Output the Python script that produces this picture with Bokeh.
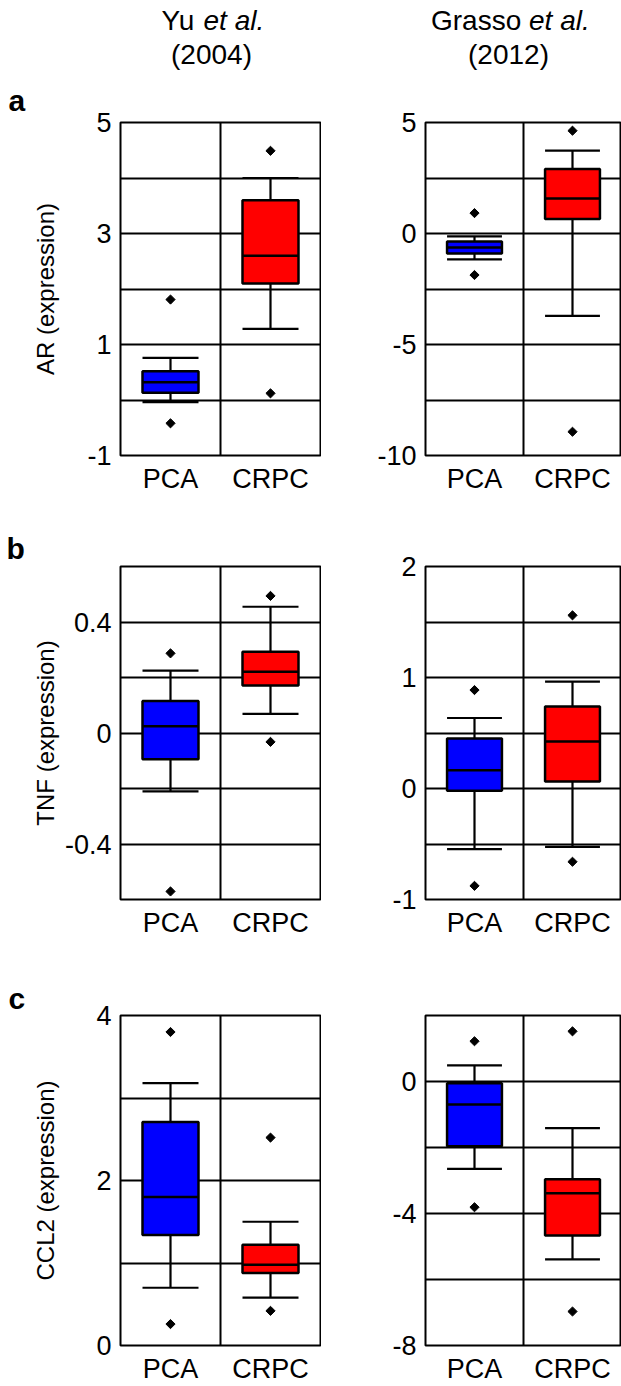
import math
from bokeh.plotting import figure
from bokeh.layouts import row, column
from bokeh.models import FixedTicker, NumeralTickFormatter, Range1d, Title
from bokeh.core.properties import value
from bokeh.embed import file_html
from bokeh.resources import INLINE

# ---------------- data ----------------
categories = ["PCA", "CRPC"]
box_colors = ["#0000ff", "#ff0000"]

# a: AR, Yu et al. (2004)
yu_ar_low = [-0.04, 1.28]
yu_ar_q1 = [0.13, 2.10]
yu_ar_median = [0.32, 2.60]
yu_ar_q3 = [0.52, 3.60]
yu_ar_high = [0.76, 4.00]
yu_ar_outliers = [[1.81, -0.42], [4.49, 0.12]]
yu_ar_ticks = [-1, 1, 3, 5]
yu_ar_grid = [0, 1, 2, 3, 4]

# a: AR, Grasso et al. (2012)
gr_ar_low = [-1.17, -3.71]
gr_ar_q1 = [-0.90, 0.65]
gr_ar_median = [-0.63, 1.58]
gr_ar_q3 = [-0.36, 2.90]
gr_ar_high = [-0.13, 3.73]
gr_ar_outliers = [[0.92, -1.87], [4.63, -8.93]]
gr_ar_ticks = [-10, -5, 0, 5]
gr_ar_grid = [-7.5, -5, -2.5, 0, 2.5]

# b: TNF, Yu et al.
yu_tnf_low = [-0.21, 0.069]
yu_tnf_q1 = [-0.095, 0.171]
yu_tnf_median = [0.024, 0.221]
yu_tnf_q3 = [0.115, 0.293]
yu_tnf_high = [0.225, 0.455]
yu_tnf_outliers = [[0.287, -0.571], [0.494, -0.032]]
yu_tnf_ticks = [-0.4, 0, 0.4]
yu_tnf_grid = [-0.4, -0.2, 0, 0.2, 0.4]

# b: TNF, Grasso et al.
gr_tnf_low = [-0.546, -0.526]
gr_tnf_q1 = [-0.02, 0.063]
gr_tnf_median = [0.165, 0.423]
gr_tnf_q3 = [0.45, 0.738]
gr_tnf_high = [0.635, 0.963]
gr_tnf_outliers = [[0.887, -0.877], [1.56, -0.66]]
gr_tnf_ticks = [-1, 0, 1, 2]
gr_tnf_grid = [-0.5, 0, 0.5, 1, 1.5]

# c: CCL2, Yu et al.
yu_ccl2_low = [0.70, 0.58]
yu_ccl2_q1 = [1.34, 0.88]
yu_ccl2_median = [1.80, 0.98]
yu_ccl2_q3 = [2.71, 1.22]
yu_ccl2_high = [3.18, 1.50]
yu_ccl2_outliers = [[3.80, 0.26], [2.52, 0.42]]
yu_ccl2_ticks = [0, 2, 4]
yu_ccl2_grid = [1, 2, 3]

# c: CCL2, Grasso et al.
gr_ccl2_low = [-2.65, -5.39]
gr_ccl2_q1 = [-1.96, -4.67]
gr_ccl2_median = [-0.70, -3.39]
gr_ccl2_q3 = [-0.05, -2.96]
gr_ccl2_high = [0.49, -1.41]
gr_ccl2_outliers = [[1.22, -3.81], [1.52, -6.97]]
gr_ccl2_ticks = [-8, -4, 0]
gr_ccl2_grid = [-6, -4, -2, 0]

titles = ["Yu", "Grasso"]
title_years = ["(2004)", "(2012)"]
panel_letters = ["a", "b", "c"]
y_labels = ["AR (expression)", "TNF (expression)", "CCL2 (expression)"]

FONT = "Liberation Sans"
BOX_W = 0.56
MID = 0.3465  # (ascent - descent) / 2 for Liberation Sans, in em


def make_panel(low, q1, med, q3, high, outl, yr, ticks, grid,
               width, height, bl, br, bt, bb, ylabel=None, ylabel_standoff=0,
               letter=None, letter_offset=0, letter_standoff=0):
    n = len(categories)
    p = figure(width=width, height=height,
               x_range=Range1d(0, n), y_range=Range1d(*yr),
               output_backend="svg", toolbar_location=None,
               min_border_left=bl, min_border_right=br,
               min_border_top=bt, min_border_bottom=bb)
    p.background_fill_color = "white"
    p.border_fill_color = "white"
    p.outline_line_color = "black"
    p.outline_line_width = 2

    centers = [i + 0.5 for i in range(n)]
    p.xaxis.ticker = FixedTicker(ticks=centers)
    p.xaxis.major_label_overrides = {c: lab for c, lab in zip(centers, categories)}
    p.yaxis.ticker = FixedTicker(ticks=ticks)
    p.yaxis.formatter = NumeralTickFormatter(format="0.[0]")
    for ax in (p.xaxis[0], p.yaxis[0]):
        ax.axis_line_color = None
        ax.major_tick_line_color = None
        ax.minor_tick_line_color = None
        ax.major_tick_out = 0
        ax.major_tick_in = 0
        ax.minor_tick_out = 0
        ax.major_label_text_font = FONT
        ax.major_label_text_font_size = "27px"
        ax.major_label_text_color = "black"
    p.xaxis.major_label_standoff = 8
    p.yaxis.major_label_standoff = 9
    if ylabel is not None:
        p.yaxis.axis_label = ylabel
        p.yaxis.axis_label_text_font = FONT
        p.yaxis.axis_label_text_font_size = "24px"
        p.yaxis.axis_label_text_font_style = "normal"
        p.yaxis.axis_label_text_color = "black"
        p.yaxis.axis_label_standoff = ylabel_standoff
    if letter is not None:
        p.title = Title(text=letter, align="left", offset=letter_offset,
                        vertical_align="bottom", standoff=letter_standoff,
                        text_font=FONT, text_font_size="30px",
                        text_font_style="bold", text_color="black")

    p.xgrid.ticker = FixedTicker(ticks=[i for i in range(1, n)])
    p.ygrid.ticker = FixedTicker(ticks=grid)
    for g in (p.xgrid[0], p.ygrid[0]):
        g.grid_line_color = "black"
        g.grid_line_width = 2
        g.grid_line_alpha = 1.0

    lefts = [c - BOX_W / 2 for c in centers]
    rights = [c + BOX_W / 2 for c in centers]
    # whiskers
    p.segment(x0=centers, y0=q3, x1=centers, y1=high, line_color="black", line_width=2.2)
    p.segment(x0=centers, y0=q1, x1=centers, y1=low, line_color="black", line_width=2.2)
    p.segment(x0=lefts, y0=high, x1=rights, y1=high, line_color="black", line_width=2.2)
    p.segment(x0=lefts, y0=low, x1=rights, y1=low, line_color="black", line_width=2.2)
    # boxes
    p.vbar(x=centers, top=q3, bottom=q1, width=BOX_W, fill_color=box_colors,
           line_color="black", line_width=2.5)
    p.segment(x0=lefts, y0=med, x1=rights, y1=med, line_color="black", line_width=2.5)
    # outliers
    ox, oy = [], []
    for c, vals in zip(centers, outl):
        for v in vals:
            ox.append(c)
            oy.append(v)
    p.scatter(x=ox, y=oy, marker="square", size=6.5, angle=math.pi / 4,
              fill_color="black", line_color="black", line_width=1)
    return p


def text_strip(width, height):
    f = figure(width=width, height=height, x_range=Range1d(0, width),
               y_range=Range1d(0, height), x_axis_type=None, y_axis_type=None,
               output_backend="svg", toolbar_location=None,
               min_border_left=0, min_border_right=0,
               min_border_top=0, min_border_bottom=0)
    f.outline_line_color = None
    f.background_fill_color = "white"
    f.border_fill_color = "white"
    f.grid.visible = False
    return f


def put_text(f, x, baseline_from_top, txt, size_px, style="normal", align="left"):
    y_mid = baseline_from_top - MID * size_px
    f.text(x=[x], y=[f.height - y_mid], text=[txt], text_font=value(FONT),
           text_font_size=value(f"{size_px}px"), text_font_style=value(style),
           text_color="black", text_align=value(align), text_baseline=value("middle"))


# ---------------- layout (page y coordinates) ----------------
W = 621
LW, LBL, LBR = 321, 120, 1         # left panel figure: frame x 120..320
RW, RBL, RBR = 300, 104, 0         # right panel figure: frame x 425..621

HEAD_H = 72           # 0..72
ROW_A_H = 448         # 72..520, frames 122..455
ROW_B_H = 440         # 520..960, frames 566..899
ROW_C_H = 426         # 960..1386, frames 1015..1347

header = text_strip(W, HEAD_H)
put_text(header, 161, 29.5, titles[0], 28)
put_text(header, 203, 29.5, "et al.", 28, style="italic")
put_text(header, 211, 63.5, title_years[0], 28, align="center")
put_text(header, 430.5, 29.5, titles[1], 28)
put_text(header, 528.5, 29.5, "et al.", 28, style="italic")
put_text(header, 508, 63.5, title_years[1], 28, align="center")

pa1 = make_panel(yu_ar_low, yu_ar_q1, yu_ar_median, yu_ar_q3, yu_ar_high, yu_ar_outliers,
                 (-1, 5), yu_ar_ticks, yu_ar_grid, LW, ROW_A_H, LBL, LBR, 50, 65,
                 ylabel=y_labels[0], ylabel_standoff=25,
                 letter=panel_letters[0], letter_offset=-112, letter_standoff=11)
pa2 = make_panel(gr_ar_low, gr_ar_q1, gr_ar_median, gr_ar_q3, gr_ar_high, gr_ar_outliers,
                 (-10, 5), gr_ar_ticks, gr_ar_grid, RW, ROW_A_H, RBL, RBR, 50, 65)

pb1 = make_panel(yu_tnf_low, yu_tnf_q1, yu_tnf_median, yu_tnf_q3, yu_tnf_high, yu_tnf_outliers,
                 (-0.6, 0.6), yu_tnf_ticks, yu_tnf_grid, LW, ROW_B_H, LBL, LBR, 46, 61,
                 ylabel=y_labels[1], ylabel_standoff=3,
                 letter=panel_letters[1], letter_offset=-114, letter_standoff=3)
pb2 = make_panel(gr_tnf_low, gr_tnf_q1, gr_tnf_median, gr_tnf_q3, gr_tnf_high, gr_tnf_outliers,
                 (-1, 2), gr_tnf_ticks, gr_tnf_grid, RW, ROW_B_H, RBL, RBR, 46, 61)

pc1 = make_panel(yu_ccl2_low, yu_ccl2_q1, yu_ccl2_median, yu_ccl2_q3, yu_ccl2_high, yu_ccl2_outliers,
                 (0, 4), yu_ccl2_ticks, yu_ccl2_grid, LW, ROW_C_H, LBL, LBR, 55, 39,
                 ylabel=y_labels[2], ylabel_standoff=34,
                 letter=panel_letters[2], letter_offset=-112, letter_standoff=2)
pc2 = make_panel(gr_ccl2_low, gr_ccl2_q1, gr_ccl2_median, gr_ccl2_q3, gr_ccl2_high, gr_ccl2_outliers,
                 (-8, 2), gr_ccl2_ticks, gr_ccl2_grid, RW, ROW_C_H, RBL, RBR, 55, 39)

layout = column(header, row(pa1, pa2), row(pb1, pb2), row(pc1, pc2))

with open("out.html", "w") as f:
    f.write(file_html(layout, INLINE))
